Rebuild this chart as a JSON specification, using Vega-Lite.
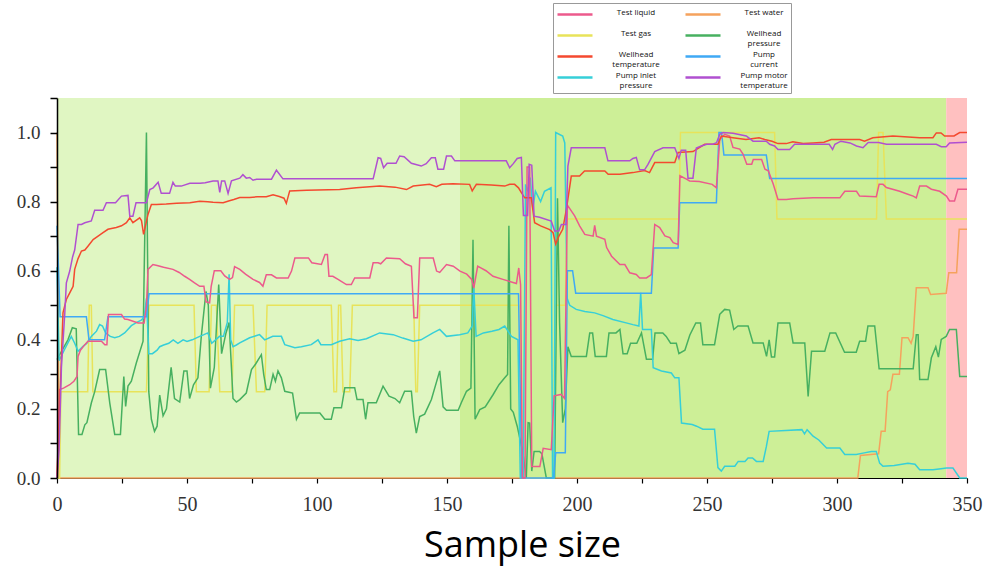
{
"$schema":"https://vega.github.io/schema/vega-lite/v6.json",
"width":910,"height":380,
"autosize":{"type":"none"},
"padding":{"left":57,"top":98,"right":18,"bottom":90},
"background":"white",
"config":{"view":{"stroke":null},"axis":{"grid":false},"style":{"guide-label":{"lineHeight":10.5}}},
"datasets":{
"water":[{"x":0,"y":1.0},{"x":0.8,"y":0},{"x":308,"y":0},{"x":309,"y":0.065},{"x":316,"y":0.07},{"x":317,"y":0.135},{"x":318.5,"y":0.135},{"x":319.5,"y":0.25},{"x":320.5,"y":0.255},{"x":321.5,"y":0.3},{"x":324,"y":0.3},{"x":325,"y":0.406},{"x":327.3,"y":0.406},{"x":328.5,"y":0.39},{"x":329.3,"y":0.41},{"x":330.5,"y":0.551},{"x":335,"y":0.551},{"x":336,"y":0.531},{"x":342,"y":0.535},{"x":343,"y":0.594},{"x":346,"y":0.594},{"x":347,"y":0.72},{"x":350,"y":0.72}],
"gas":[{"x":0,"y":0},{"x":1,"y":0},{"x":1.5,"y":0.25},{"x":11.8,"y":0.25},{"x":12.4,"y":0.5},{"x":13.2,"y":0.5},{"x":13.8,"y":0.25},{"x":34.4,"y":0.25},{"x":35.4,"y":0.5},{"x":52.7,"y":0.5},{"x":53.6,"y":0.25},{"x":58.5,"y":0.25},{"x":59.4,"y":0.5},{"x":61.3,"y":0.5},{"x":62.6,"y":0.25},{"x":67.3,"y":0.25},{"x":68.3,"y":0.5},{"x":75.4,"y":0.5},{"x":76.7,"y":0.25},{"x":79.9,"y":0.25},{"x":80.8,"y":0.5},{"x":105.5,"y":0.5},{"x":106.5,"y":0.25},{"x":107.5,"y":0.25},{"x":108.3,"y":0.5},{"x":109.1,"y":0.5},{"x":110,"y":0.25},{"x":112.6,"y":0.25},{"x":113.6,"y":0.5},{"x":137.2,"y":0.5},{"x":138,"y":0.25},{"x":138.6,"y":0.25},{"x":139.5,"y":0.5},{"x":178,"y":0.5},{"x":179,"y":0},{"x":191,"y":0},{"x":191.5,"y":0.5},{"x":195.5,"y":0.5},{"x":196.2,"y":0.75},{"x":239.2,"y":0.75},{"x":239.8,"y":1.0},{"x":276,"y":1.0},{"x":276.9,"y":0.75},{"x":315.2,"y":0.75},{"x":316,"y":1.0},{"x":317.7,"y":1.0},{"x":319,"y":0.75},{"x":350,"y":0.75}],
"wpress":[{"x":0,"y":0.343},{"x":2,"y":0.37},{"x":4.2,"y":0.4},{"x":5.9,"y":0.435},{"x":7.4,"y":0.432},{"x":8.3,"y":0.126},{"x":9.6,"y":0.126},{"x":10.7,"y":0.154},{"x":11.5,"y":0.16},{"x":13.2,"y":0.217},{"x":14.5,"y":0.25},{"x":16.4,"y":0.314},{"x":18.7,"y":0.314},{"x":20.3,"y":0.217},{"x":22.2,"y":0.126},{"x":24.4,"y":0.126},{"x":25.7,"y":0.294},{"x":26.4,"y":0.207},{"x":27.3,"y":0.266},{"x":28.6,"y":0.28},{"x":30.5,"y":0.333},{"x":33.1,"y":0.396},{"x":34.4,"y":1.0},{"x":35.3,"y":0.25},{"x":36.3,"y":0.17},{"x":37.5,"y":0.135},{"x":38.5,"y":0.15},{"x":39.5,"y":0.24},{"x":40.8,"y":0.18},{"x":42.1,"y":0.2},{"x":43.9,"y":0.32},{"x":45.2,"y":0.23},{"x":47.2,"y":0.22},{"x":48.8,"y":0.31},{"x":50,"y":0.31},{"x":51,"y":0.23},{"x":52.5,"y":0.27},{"x":54.2,"y":0.29},{"x":55.5,"y":0.41},{"x":57.3,"y":0.54},{"x":58.2,"y":0.5},{"x":59,"y":0.26},{"x":60.5,"y":0.32},{"x":62.2,"y":0.56},{"x":63.3,"y":0.36},{"x":65,"y":0.42},{"x":66.2,"y":0.45},{"x":67.7,"y":0.23},{"x":69,"y":0.22},{"x":70.3,"y":0.227},{"x":72.8,"y":0.246},{"x":74.8,"y":0.314},{"x":76.4,"y":0.33},{"x":78.6,"y":0.357},{"x":79.5,"y":0.3},{"x":80.5,"y":0.256},{"x":81.8,"y":0.256},{"x":83.1,"y":0.3},{"x":84,"y":0.28},{"x":85,"y":0.31},{"x":86.3,"y":0.29},{"x":87.6,"y":0.251},{"x":90.6,"y":0.246},{"x":92.1,"y":0.17},{"x":93.3,"y":0.188},{"x":101.1,"y":0.188},{"x":103,"y":0.17},{"x":105.5,"y":0.17},{"x":106.5,"y":0.203},{"x":109.4,"y":0.203},{"x":110.7,"y":0.261},{"x":114.5,"y":0.261},{"x":115.4,"y":0.227},{"x":117.7,"y":0.227},{"x":118.7,"y":0.17},{"x":119.6,"y":0.218},{"x":122.8,"y":0.218},{"x":125.4,"y":0.266},{"x":127.7,"y":0.237},{"x":130,"y":0.23},{"x":131.8,"y":0.218},{"x":133.7,"y":0.251},{"x":136.3,"y":0.251},{"x":137.2,"y":0.178},{"x":138.2,"y":0.13},{"x":139.5,"y":0.178},{"x":141.4,"y":0.185},{"x":142.7,"y":0.206},{"x":144,"y":0.227},{"x":147.2,"y":0.31},{"x":148.5,"y":0.206},{"x":149.8,"y":0.196},{"x":154.3,"y":0.196},{"x":155.5,"y":0.218},{"x":157.5,"y":0.251},{"x":159.2,"y":0.26},{"x":160,"y":0.69},{"x":160.8,"y":0.17},{"x":162.6,"y":0.198},{"x":164.7,"y":0.206},{"x":167.7,"y":0.241},{"x":170,"y":0.27},{"x":172.2,"y":0.29},{"x":173.3,"y":0.3},{"x":173.8,"y":0.73},{"x":174.5,"y":0.2},{"x":175.5,"y":0.19},{"x":177,"y":0.15},{"x":179.2,"y":0.073},{"x":180.5,"y":0},{"x":181.2,"y":0.16},{"x":181.8,"y":0.159},{"x":182.6,"y":0.02},{"x":183.5,"y":0.077},{"x":185.6,"y":0.077},{"x":186.5,"y":0.07},{"x":188.2,"y":0},{"x":191.4,"y":0},{"x":192.5,"y":0.81},{"x":193.3,"y":0.45},{"x":194.5,"y":0.16},{"x":195.5,"y":0.2},{"x":196.5,"y":0.38},{"x":197.8,"y":0.352},{"x":203.6,"y":0.352},{"x":204.9,"y":0.42},{"x":206,"y":0.42},{"x":207,"y":0.352},{"x":211.3,"y":0.352},{"x":212.3,"y":0.42},{"x":215,"y":0.42},{"x":216.5,"y":0.43},{"x":217.7,"y":0.36},{"x":219.3,"y":0.36},{"x":220.6,"y":0.39},{"x":223,"y":0.39},{"x":224.8,"y":0.42},{"x":226.7,"y":0.344},{"x":229.1,"y":0.344},{"x":230,"y":0.42},{"x":233,"y":0.42},{"x":234.3,"y":0.41},{"x":236,"y":0.39},{"x":238.2,"y":0.39},{"x":239.2,"y":0.36},{"x":241.5,"y":0.37},{"x":243.4,"y":0.414},{"x":245.7,"y":0.449},{"x":247.5,"y":0.449},{"x":248.4,"y":0.386},{"x":252.9,"y":0.386},{"x":254.9,"y":0.474},{"x":256.8,"y":0.488},{"x":258.7,"y":0.486},{"x":260.3,"y":0.43},{"x":261.9,"y":0.44},{"x":265.8,"y":0.44},{"x":267.7,"y":0.391},{"x":271.6,"y":0.391},{"x":272.9,"y":0.352},{"x":273.9,"y":0.4},{"x":274.8,"y":0.35},{"x":276,"y":0.35},{"x":277.3,"y":0.449},{"x":281.8,"y":0.449},{"x":283.1,"y":0.391},{"x":287.6,"y":0.391},{"x":288.9,"y":0.236},{"x":290.2,"y":0.367},{"x":295.3,"y":0.367},{"x":297.3,"y":0.42},{"x":299.5,"y":0.42},{"x":302.9,"y":0.364},{"x":307.4,"y":0.364},{"x":308.7,"y":0.396},{"x":311,"y":0.396},{"x":311.9,"y":0.44},{"x":314.5,"y":0.44},{"x":316.2,"y":0.316},{"x":329.3,"y":0.316},{"x":330.5,"y":0.415},{"x":331.2,"y":0.415},{"x":331.8,"y":0.285},{"x":335,"y":0.285},{"x":336.3,"y":0.348},{"x":338,"y":0.38},{"x":339,"y":0.35},{"x":340.1,"y":0.401},{"x":342,"y":0.41},{"x":343.3,"y":0.43},{"x":345.9,"y":0.43},{"x":347.2,"y":0.294},{"x":350,"y":0.294}],
"inlet":[{"x":0,"y":0.61},{"x":0.8,"y":0.34},{"x":2.9,"y":0.372},{"x":4.2,"y":0.391},{"x":5.5,"y":0.41},{"x":6.8,"y":0.39},{"x":8.1,"y":0.367},{"x":10,"y":0.381},{"x":11.5,"y":0.39},{"x":13.2,"y":0.41},{"x":15.2,"y":0.425},{"x":16.4,"y":0.444},{"x":17.5,"y":0.44},{"x":18.7,"y":0.42},{"x":20.5,"y":0.41},{"x":22.2,"y":0.406},{"x":24,"y":0.41},{"x":26,"y":0.42},{"x":28.6,"y":0.441},{"x":30.5,"y":0.45},{"x":32.4,"y":0.457},{"x":33.5,"y":0.465},{"x":34.4,"y":0.52},{"x":35.3,"y":0.36},{"x":36.7,"y":0.36},{"x":38.5,"y":0.37},{"x":39.5,"y":0.38},{"x":41,"y":0.385},{"x":43,"y":0.39},{"x":44.7,"y":0.4},{"x":46.5,"y":0.39},{"x":48.5,"y":0.4},{"x":50,"y":0.395},{"x":52,"y":0.4},{"x":54.9,"y":0.41},{"x":56.5,"y":0.415},{"x":58,"y":0.42},{"x":59.5,"y":0.39},{"x":61,"y":0.4},{"x":62.5,"y":0.41},{"x":64,"y":0.41},{"x":65.5,"y":0.45},{"x":66.2,"y":0.59},{"x":66.8,"y":0.4},{"x":67.7,"y":0.38},{"x":69,"y":0.385},{"x":70.3,"y":0.391},{"x":74.1,"y":0.406},{"x":77.9,"y":0.415},{"x":79.9,"y":0.4},{"x":83,"y":0.41},{"x":86.3,"y":0.41},{"x":87.6,"y":0.386},{"x":91.5,"y":0.377},{"x":94,"y":0.38},{"x":97.8,"y":0.386},{"x":100.4,"y":0.4},{"x":101.5,"y":0.386},{"x":105.5,"y":0.386},{"x":108.7,"y":0.396},{"x":112.6,"y":0.403},{"x":115.8,"y":0.398},{"x":119,"y":0.403},{"x":124.1,"y":0.42},{"x":129.3,"y":0.415},{"x":133,"y":0.405},{"x":137,"y":0.396},{"x":140,"y":0.4},{"x":144.6,"y":0.42},{"x":147.2,"y":0.43},{"x":149.8,"y":0.41},{"x":154.9,"y":0.415},{"x":158,"y":0.42},{"x":159.7,"y":0.44},{"x":160.3,"y":0.55},{"x":161.2,"y":0.41},{"x":164,"y":0.42},{"x":167.3,"y":0.425},{"x":170,"y":0.43},{"x":172.2,"y":0.44},{"x":174.8,"y":0.41},{"x":177.3,"y":0.4},{"x":178.2,"y":0},{"x":179.3,"y":0},{"x":180.2,"y":0.85},{"x":181,"y":0.83},{"x":182,"y":0.87},{"x":183,"y":0.78},{"x":184,"y":0.83},{"x":186,"y":0.8},{"x":187.5,"y":0.83},{"x":190,"y":0.84},{"x":190.6,"y":0},{"x":191.2,"y":0},{"x":191.8,"y":1.0},{"x":194.5,"y":0.99},{"x":195.3,"y":0.97},{"x":196.2,"y":0.52},{"x":197.2,"y":0.5},{"x":199.7,"y":0.488},{"x":203,"y":0.482},{"x":206.8,"y":0.478},{"x":210,"y":0.47},{"x":213.8,"y":0.459},{"x":218.9,"y":0.449},{"x":221.5,"y":0.444},{"x":223.8,"y":0.44},{"x":224.5,"y":0.536},{"x":225.2,"y":0.43},{"x":228.6,"y":0.43},{"x":229.3,"y":0.319},{"x":232.5,"y":0.31},{"x":236.3,"y":0.304},{"x":237.6,"y":0.29},{"x":239.2,"y":0.29},{"x":240.2,"y":0.159},{"x":244.3,"y":0.155},{"x":246,"y":0.15},{"x":248.4,"y":0.141},{"x":252.9,"y":0.141},{"x":254.2,"y":0.03},{"x":255.5,"y":0.02},{"x":256.8,"y":0.034},{"x":260.7,"y":0.034},{"x":262,"y":0.048},{"x":264.6,"y":0.048},{"x":265.8,"y":0.058},{"x":267.5,"y":0.058},{"x":269,"y":0.048},{"x":271.6,"y":0.048},{"x":272.8,"y":0.09},{"x":273.9,"y":0.135},{"x":286.5,"y":0.14},{"x":287.5,"y":0.128},{"x":288.5,"y":0.14},{"x":290.8,"y":0.121},{"x":293,"y":0.11},{"x":296,"y":0.087},{"x":301.1,"y":0.087},{"x":303,"y":0.068},{"x":307.4,"y":0.068},{"x":310,"y":0.072},{"x":313.2,"y":0.077},{"x":315.1,"y":0.077},{"x":316.4,"y":0.043},{"x":317.7,"y":0.034},{"x":322,"y":0.036},{"x":327.3,"y":0.043},{"x":330,"y":0.04},{"x":331.8,"y":0.024},{"x":336.9,"y":0.024},{"x":340,"y":0.027},{"x":342.1,"y":0.029},{"x":344.6,"y":0.029},{"x":347.2,"y":0},{"x":350,"y":0}],
"current":[{"x":0,"y":0.73},{"x":1.2,"y":0.467},{"x":11.3,"y":0.467},{"x":12.3,"y":0.4},{"x":18.3,"y":0.4},{"x":19.6,"y":0.467},{"x":34.4,"y":0.467},{"x":35.4,"y":0.533},{"x":177.5,"y":0.533},{"x":178.8,"y":0},{"x":191,"y":0},{"x":191.8,"y":0.073},{"x":195.5,"y":0.073},{"x":196.3,"y":0.6},{"x":198.3,"y":0.6},{"x":199.5,"y":0.535},{"x":228.6,"y":0.535},{"x":229.5,"y":0.666},{"x":238.9,"y":0.666},{"x":239.5,"y":0.797},{"x":253.6,"y":0.797},{"x":254.6,"y":1.0},{"x":255.6,"y":1.0},{"x":256.5,"y":0.935},{"x":272.8,"y":0.935},{"x":274.1,"y":0.867},{"x":350,"y":0.867}],
"liquid":[{"x":0,"y":0},{"x":1,"y":0.256},{"x":2.5,"y":0.26},{"x":4.9,"y":0.27},{"x":6.5,"y":0.28},{"x":7.7,"y":0.294},{"x":8.1,"y":0.352},{"x":9,"y":0.37},{"x":10.7,"y":0.386},{"x":11.9,"y":0.396},{"x":17.1,"y":0.396},{"x":18.4,"y":0.386},{"x":19.2,"y":0.386},{"x":19.8,"y":0.473},{"x":24.8,"y":0.473},{"x":26,"y":0.46},{"x":27.3,"y":0.459},{"x":31.2,"y":0.449},{"x":33.5,"y":0.449},{"x":34.4,"y":0.498},{"x":35,"y":0.604},{"x":36.9,"y":0.618},{"x":38.5,"y":0.615},{"x":41,"y":0.61},{"x":44.6,"y":0.604},{"x":47,"y":0.595},{"x":49.1,"y":0.584},{"x":51,"y":0.575},{"x":52.9,"y":0.565},{"x":54.9,"y":0.555},{"x":56.5,"y":0.555},{"x":57.3,"y":0.51},{"x":58.7,"y":0.507},{"x":59.3,"y":0.555},{"x":60.5,"y":0.6},{"x":63,"y":0.6},{"x":64.5,"y":0.585},{"x":66.4,"y":0.575},{"x":67.5,"y":0.58},{"x":68.3,"y":0.612},{"x":70.3,"y":0.604},{"x":72.5,"y":0.59},{"x":75.4,"y":0.575},{"x":77.9,"y":0.566},{"x":79.2,"y":0.555},{"x":80.5,"y":0.588},{"x":82.5,"y":0.588},{"x":84.4,"y":0.579},{"x":88.9,"y":0.579},{"x":90.2,"y":0.599},{"x":91.5,"y":0.637},{"x":96.7,"y":0.637},{"x":98,"y":0.623},{"x":101.7,"y":0.618},{"x":103.1,"y":0.647},{"x":104,"y":0.647},{"x":104.6,"y":0.584},{"x":106.1,"y":0.584},{"x":108.1,"y":0.575},{"x":111.3,"y":0.56},{"x":113.2,"y":0.56},{"x":114.5,"y":0.579},{"x":120.3,"y":0.579},{"x":121.6,"y":0.623},{"x":123.5,"y":0.623},{"x":124.5,"y":0.62},{"x":126.7,"y":0.637},{"x":131.8,"y":0.635},{"x":134,"y":0.62},{"x":136.3,"y":0.613},{"x":137.3,"y":0.464},{"x":138.6,"y":0.464},{"x":139.5,"y":0.637},{"x":144.7,"y":0.637},{"x":146,"y":0.599},{"x":147.2,"y":0.595},{"x":149.8,"y":0.618},{"x":152.4,"y":0.613},{"x":155,"y":0.599},{"x":157.6,"y":0.59},{"x":159.5,"y":0.575},{"x":160.3,"y":0.55},{"x":161.8,"y":0.613},{"x":163,"y":0.608},{"x":165,"y":0.6},{"x":167.7,"y":0.584},{"x":171.5,"y":0.575},{"x":175.4,"y":0.566},{"x":176.7,"y":0.563},{"x":177.6,"y":0.608},{"x":178.3,"y":0.56},{"x":179,"y":0},{"x":180,"y":0},{"x":180.8,"y":0.9},{"x":181.8,"y":0.9},{"x":182.6,"y":0.033},{"x":185.7,"y":0.033},{"x":187,"y":0.086},{"x":190.1,"y":0.082},{"x":191.2,"y":0.238},{"x":193.9,"y":0.242},{"x":195.2,"y":0.23},{"x":196.3,"y":0.79},{"x":199.1,"y":0.759},{"x":201,"y":0.73},{"x":203,"y":0.705},{"x":206.2,"y":0.7},{"x":206.8,"y":0.731},{"x":207.5,"y":0.7},{"x":210.7,"y":0.691},{"x":211.4,"y":0.667},{"x":213.3,"y":0.642},{"x":216.5,"y":0.618},{"x":218.4,"y":0.618},{"x":220.3,"y":0.594},{"x":222.8,"y":0.589},{"x":224.1,"y":0.579},{"x":226.7,"y":0.579},{"x":228.6,"y":0.589},{"x":229.9,"y":0.734},{"x":231.8,"y":0.725},{"x":233.8,"y":0.701},{"x":235.7,"y":0.696},{"x":237,"y":0.681},{"x":238.9,"y":0.676},{"x":239.6,"y":0.875},{"x":242.1,"y":0.865},{"x":243.3,"y":0.86},{"x":247,"y":0.858},{"x":252,"y":0.85},{"x":253.6,"y":0.84},{"x":254.9,"y":0.98},{"x":256.8,"y":0.995},{"x":258.7,"y":0.99},{"x":260,"y":0.957},{"x":262.6,"y":0.952},{"x":263.9,"y":0.937},{"x":265.3,"y":0.908},{"x":267.2,"y":0.908},{"x":267.8,"y":0.922},{"x":271,"y":0.922},{"x":272.3,"y":0.894},{"x":273.6,"y":0.889},{"x":275.5,"y":0.85},{"x":277.3,"y":0.806},{"x":280.5,"y":0.806},{"x":283.1,"y":0.808},{"x":290.8,"y":0.811},{"x":301.1,"y":0.811},{"x":303,"y":0.83},{"x":307.5,"y":0.83},{"x":308.7,"y":0.816},{"x":315.1,"y":0.814},{"x":316.2,"y":0.85},{"x":317.7,"y":0.85},{"x":319,"y":0.841},{"x":324.1,"y":0.83},{"x":326.7,"y":0.823},{"x":329.3,"y":0.816},{"x":330.5,"y":0.811},{"x":331.8,"y":0.845},{"x":334.4,"y":0.845},{"x":336.3,"y":0.836},{"x":339.5,"y":0.83},{"x":342.1,"y":0.816},{"x":343.3,"y":0.802},{"x":345.2,"y":0.802},{"x":346.5,"y":0.836},{"x":350,"y":0.836}],
"wtemp":[{"x":0,"y":0},{"x":1,"y":0.2},{"x":2.3,"y":0.478},{"x":3.6,"y":0.517},{"x":4.9,"y":0.536},{"x":6.2,"y":0.555},{"x":6.8,"y":0.604},{"x":8.1,"y":0.635},{"x":9.4,"y":0.657},{"x":10.7,"y":0.66},{"x":11.9,"y":0.671},{"x":13.9,"y":0.69},{"x":15.8,"y":0.7},{"x":17.7,"y":0.71},{"x":19.6,"y":0.72},{"x":22.8,"y":0.725},{"x":24.8,"y":0.73},{"x":26.7,"y":0.739},{"x":28,"y":0.753},{"x":29.2,"y":0.739},{"x":31.8,"y":0.753},{"x":32.5,"y":0.745},{"x":33.3,"y":0.705},{"x":35,"y":0.763},{"x":36.3,"y":0.792},{"x":38.2,"y":0.792},{"x":42,"y":0.793},{"x":46,"y":0.795},{"x":51.1,"y":0.797},{"x":54.9,"y":0.801},{"x":58,"y":0.8},{"x":60,"y":0.798},{"x":63.9,"y":0.797},{"x":66,"y":0.802},{"x":68,"y":0.806},{"x":70.3,"y":0.812},{"x":74.1,"y":0.812},{"x":77,"y":0.814},{"x":80.5,"y":0.814},{"x":83.1,"y":0.82},{"x":85.5,"y":0.815},{"x":87.3,"y":0.81},{"x":88.2,"y":0.795},{"x":89.5,"y":0.831},{"x":96,"y":0.833},{"x":108.7,"y":0.835},{"x":115.1,"y":0.84},{"x":124.1,"y":0.845},{"x":130,"y":0.842},{"x":134.4,"y":0.835},{"x":137,"y":0.845},{"x":143.3,"y":0.85},{"x":145.9,"y":0.843},{"x":148,"y":0.85},{"x":152.3,"y":0.852},{"x":158.7,"y":0.85},{"x":159.7,"y":0.831},{"x":161.3,"y":0.85},{"x":167,"y":0.848},{"x":172.2,"y":0.845},{"x":174.1,"y":0.85},{"x":176,"y":0.85},{"x":177.5,"y":0.84},{"x":178.6,"y":0.826},{"x":179.9,"y":0.811},{"x":182.4,"y":0.811},{"x":183.7,"y":0.739},{"x":186,"y":0.73},{"x":189.5,"y":0.719},{"x":190.8,"y":0.71},{"x":191.8,"y":0.677},{"x":193.1,"y":0.701},{"x":194.5,"y":0.72},{"x":195.9,"y":0.777},{"x":197.8,"y":0.874},{"x":201,"y":0.874},{"x":202.9,"y":0.889},{"x":210.7,"y":0.889},{"x":212,"y":0.879},{"x":216.5,"y":0.879},{"x":221.5,"y":0.884},{"x":226,"y":0.89},{"x":227.9,"y":0.884},{"x":229.9,"y":0.913},{"x":237.6,"y":0.913},{"x":238.9,"y":0.942},{"x":244.6,"y":0.945},{"x":249.1,"y":0.966},{"x":254.2,"y":0.966},{"x":255.5,"y":0.99},{"x":260,"y":0.985},{"x":265,"y":0.98},{"x":270,"y":0.985},{"x":272.2,"y":0.98},{"x":275,"y":0.975},{"x":277.3,"y":0.968},{"x":280.5,"y":0.968},{"x":283,"y":0.973},{"x":287,"y":0.968},{"x":290.8,"y":0.97},{"x":295,"y":0.972},{"x":297.8,"y":0.98},{"x":308.7,"y":0.98},{"x":310.6,"y":0.975},{"x":313.8,"y":0.985},{"x":321.5,"y":0.99},{"x":331.8,"y":0.985},{"x":336.9,"y":0.985},{"x":338.2,"y":0.999},{"x":340,"y":0.999},{"x":341.4,"y":0.99},{"x":345,"y":0.99},{"x":347.2,"y":1.0},{"x":350,"y":1.0}],
"motor":[{"x":0,"y":0},{"x":0.8,"y":0.08},{"x":1.7,"y":0.32},{"x":3,"y":0.478},{"x":3.6,"y":0.565},{"x":4.9,"y":0.599},{"x":6,"y":0.64},{"x":6.8,"y":0.66},{"x":8.1,"y":0.734},{"x":9.4,"y":0.734},{"x":10.7,"y":0.739},{"x":13.2,"y":0.744},{"x":14.5,"y":0.775},{"x":17.7,"y":0.775},{"x":19,"y":0.797},{"x":22.5,"y":0.797},{"x":24.8,"y":0.816},{"x":27.3,"y":0.818},{"x":28,"y":0.758},{"x":29.2,"y":0.758},{"x":30.4,"y":0.797},{"x":34.4,"y":0.797},{"x":35.7,"y":0.835},{"x":37,"y":0.84},{"x":38.9,"y":0.856},{"x":40.1,"y":0.824},{"x":43.3,"y":0.824},{"x":44.6,"y":0.856},{"x":45.5,"y":0.845},{"x":47.8,"y":0.845},{"x":51.1,"y":0.853},{"x":55,"y":0.853},{"x":57,"y":0.855},{"x":60,"y":0.86},{"x":61.9,"y":0.86},{"x":62.6,"y":0.827},{"x":63.3,"y":0.86},{"x":64.5,"y":0.86},{"x":65.8,"y":0.824},{"x":67.1,"y":0.86},{"x":70.3,"y":0.868},{"x":71.5,"y":0.878},{"x":72.8,"y":0.868},{"x":74.1,"y":0.87},{"x":75.4,"y":0.862},{"x":76.7,"y":0.865},{"x":82.5,"y":0.865},{"x":84.4,"y":0.891},{"x":86.9,"y":0.866},{"x":121.6,"y":0.866},{"x":123.5,"y":0.927},{"x":124.5,"y":0.925},{"x":125.6,"y":0.898},{"x":127,"y":0.911},{"x":130.4,"y":0.911},{"x":131.8,"y":0.932},{"x":133.5,"y":0.93},{"x":136.3,"y":0.911},{"x":140.1,"y":0.903},{"x":142,"y":0.91},{"x":144,"y":0.927},{"x":145.5,"y":0.927},{"x":146.5,"y":0.894},{"x":148.7,"y":0.894},{"x":149.8,"y":0.932},{"x":151.7,"y":0.932},{"x":153,"y":0.918},{"x":172.8,"y":0.918},{"x":174.1,"y":0.898},{"x":175.5,"y":0.91},{"x":177,"y":0.925},{"x":178.6,"y":0.928},{"x":179.4,"y":0.76},{"x":181,"y":0.76},{"x":181.6,"y":0.908},{"x":182.6,"y":0.905},{"x":183.5,"y":0.758},{"x":185.6,"y":0.755},{"x":190.1,"y":0.744},{"x":191.4,"y":0.715},{"x":193,"y":0.715},{"x":194,"y":0.734},{"x":195.8,"y":0.734},{"x":196.5,"y":0.903},{"x":197.8,"y":0.956},{"x":210.7,"y":0.956},{"x":211.9,"y":0.918},{"x":220.3,"y":0.918},{"x":221.5,"y":0.925},{"x":222.8,"y":0.928},{"x":224.1,"y":0.892},{"x":226,"y":0.892},{"x":227.3,"y":0.908},{"x":229.9,"y":0.945},{"x":233.1,"y":0.956},{"x":237.6,"y":0.956},{"x":239.2,"y":0.925},{"x":240.1,"y":0.949},{"x":241.8,"y":0.949},{"x":242.7,"y":0.868},{"x":244.6,"y":0.868},{"x":245.9,"y":0.955},{"x":247.8,"y":0.961},{"x":249.9,"y":0.966},{"x":252.3,"y":0.966},{"x":253.7,"y":0.971},{"x":254.9,"y":0.995},{"x":256.2,"y":1.0},{"x":260,"y":0.998},{"x":265.1,"y":0.99},{"x":267.7,"y":0.975},{"x":272.8,"y":0.975},{"x":274.1,"y":0.966},{"x":276,"y":0.961},{"x":277.3,"y":0.951},{"x":281.8,"y":0.951},{"x":283.7,"y":0.966},{"x":297,"y":0.966},{"x":298.3,"y":0.951},{"x":299.2,"y":0.966},{"x":301.5,"y":0.975},{"x":305,"y":0.97},{"x":307.5,"y":0.961},{"x":310,"y":0.956},{"x":312,"y":0.971},{"x":316,"y":0.971},{"x":319,"y":0.966},{"x":338.2,"y":0.966},{"x":340.1,"y":0.959},{"x":342,"y":0.959},{"x":343.3,"y":0.97},{"x":350,"y":0.972}]
},
"layer":[
{"data":{"values":[{"zone":"Stage 1","start":0,"end":155},{"zone":"Stage 2","start":155,"end":342},{"zone":"Stage 3","start":342,"end":350}]},
 "mark":{"type":"rect"},
 "encoding":{
  "x":{"field":"start","type":"quantitative","scale":{"domain":[0,350],"nice":false,"zero":false},
   "axis":{"values":[0,25,50,75,100,125,150,175,200,225,250,275,300,325,350],"labelExpr":"datum.value % 50 == 0 ? datum.label : ''","format":"d","title":"Sample size","domainColor":"#000","domainWidth":1.2,"tickColor":"#000","tickWidth":1.2,"tickSize":5,"labelFont":"Liberation Serif","labelFontSize":20,"labelColor":"#333","labelPadding":11,"labelFlush":false,"labelOverlap":false,"titleFont":"Open Sans","titleFontSize":36,"titleFontWeight":"normal","titleColor":"#000","titlePadding":14,"titleX":465,"zindex":0}},
  "x2":{"field":"end"},
  "fill":{"field":"zone","type":"nominal","scale":{"domain":["Stage 1","Stage 2","Stage 3"],"range":["#e0f6c2","#cdef97","#ffc0c0"]},"legend":null}}},
{"encoding":{
  "x":{"field":"x","type":"quantitative","scale":{"domain":[0,350],"nice":false,"zero":false},
   "axis":{"values":[0,25,50,75,100,125,150,175,200,225,250,275,300,325,350],"labelExpr":"datum.value % 50 == 0 ? datum.label : ''","format":"d","title":"Sample size","domainColor":"#000","domainWidth":1.2,"tickColor":"#000","tickWidth":1.2,"tickSize":5,"labelFont":"Liberation Serif","labelFontSize":20,"labelColor":"#333","labelPadding":11,"labelFlush":false,"labelOverlap":false,"titleFont":"Open Sans","titleFontSize":36,"titleFontWeight":"normal","titleColor":"#000","titlePadding":14,"titleX":465,"zindex":0}},
  "y":{"field":"y","type":"quantitative","scale":{"domain":[0,1.1],"nice":false},
   "axis":{"values":[0,0.1,0.2,0.3,0.4,0.5,0.6,0.7,0.8,0.9,1.0,1.1],"labelExpr":"(round(datum.value*10) % 2 == 0 && datum.value < 1.05) ? format(datum.value,'.1f') : ''","title":null,"domainColor":"#000","domainWidth":1.5,"tickColor":"#000","tickWidth":1.5,"tickSize":7,"labelFont":"Liberation Serif","labelFontSize":19,"labelColor":"#333","labelPadding":10,"labelOverlap":false,"zindex":1}}},
 "layer":[
  {"data":{"name":"water"},"mark":{"type":"line","strokeWidth":1.5},"encoding":{"stroke":{"datum":"Test water","type":"nominal",
    "scale":{"domain":["Test liquid","Test gas","Wellhead temperature","Pump inlet pressure","Test water","Wellhead pressure","Pump current","Pump motor temperature"],"range":["#ec5a8c","#e8e35a","#f4492f","#36cfd8","#f5a25d","#47b060","#3fa9f5","#b050d0"]},
    "legend":{"title":null,"orient":"none","legendX":496,"legendY":-95,"columns":2,"gridAlign":"all","clipHeight":17,"symbolType":"M-1,0H1.8","symbolSize":625,"symbolStrokeWidth":2.5,"labelFont":"Open Sans","labelFontSize":8,"labelColor":"#111","labelAlign":"center","labelBaseline":"alphabetic","labelOffset":52,"labelExpr":"datum.label == 'Wellhead pressure' ? ['Wellhead','pressure'] : datum.label == 'Wellhead temperature' ? ['Wellhead','temperature'] : datum.label == 'Pump current' ? ['Pump','current'] : datum.label == 'Pump inlet pressure' ? ['Pump inlet','pressure'] : datum.label == 'Pump motor temperature' ? ['Pump motor','temperature'] : [datum.label,'']","strokeColor":"#999","fillColor":"#fff","padding":3,"rowPadding":0,"columnPadding":24}}}},
  {"data":{"name":"gas"},"mark":{"type":"line","strokeWidth":1.5},"encoding":{"stroke":{"datum":"Test gas","type":"nominal"}}},
  {"data":{"name":"wpress"},"mark":{"type":"line","strokeWidth":1.5},"encoding":{"stroke":{"datum":"Wellhead pressure","type":"nominal"}}},
  {"data":{"name":"inlet"},"mark":{"type":"line","strokeWidth":1.5},"encoding":{"stroke":{"datum":"Pump inlet pressure","type":"nominal"}}},
  {"data":{"name":"current"},"mark":{"type":"line","strokeWidth":1.5},"encoding":{"stroke":{"datum":"Pump current","type":"nominal"}}},
  {"data":{"name":"liquid"},"mark":{"type":"line","strokeWidth":1.5},"encoding":{"stroke":{"datum":"Test liquid","type":"nominal"}}},
  {"data":{"name":"wtemp"},"mark":{"type":"line","strokeWidth":1.5},"encoding":{"stroke":{"datum":"Wellhead temperature","type":"nominal"}}},
  {"data":{"name":"motor"},"mark":{"type":"line","strokeWidth":1.5},"encoding":{"stroke":{"datum":"Pump motor temperature","type":"nominal"}}}
 ]}
]
}
